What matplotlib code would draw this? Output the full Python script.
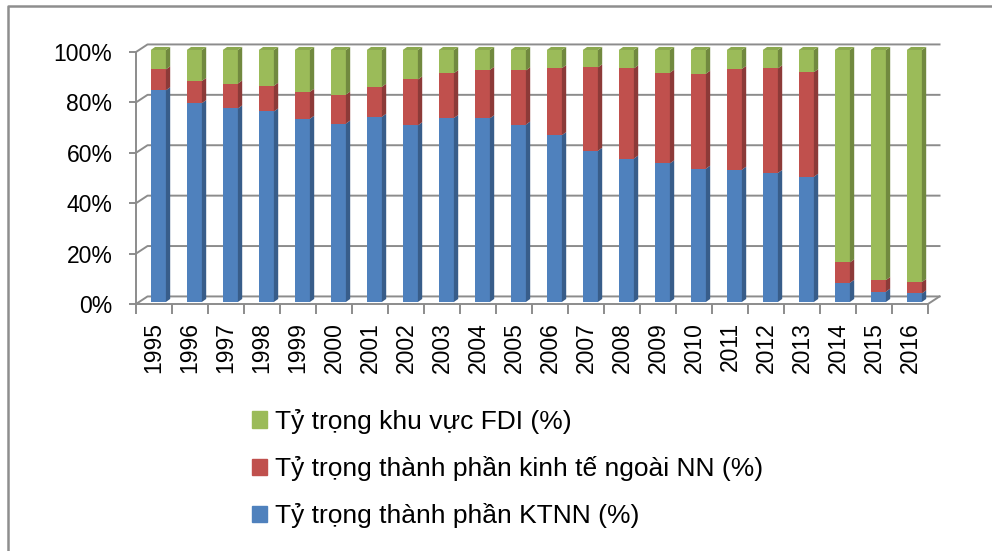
import numpy as np
import matplotlib.pyplot as plt
from matplotlib.patches import Polygon, Patch
from matplotlib.lines import Line2D

plt.rcParams['font.family'] = ['Liberation Sans', 'DejaVu Sans']

years = ["1995", "1996", "1997", "1998", "1999", "2000", "2001", "2002",
         "2003", "2004", "2005", "2006", "2007", "2008", "2009", "2010",
         "2011", "2012", "2013", "2014", "2015", "2016"]
# shares in percent
ktnn = [84.0, 78.9, 76.8, 75.6, 72.7, 70.8, 73.5, 70.1, 73.0, 72.9, 70.4,
        66.2, 60.0, 56.9, 55.0, 52.9, 52.5, 51.2, 49.7, 7.6, 4.1, 3.4]
ngoai_nn = [8.3, 8.8, 9.9, 10.2, 10.7, 11.5, 11.9, 18.2, 17.8, 19.2, 21.5,
            26.6, 33.1, 35.8, 36.0, 37.7, 40.0, 41.5, 41.5, 8.1, 4.6, 4.5]
fdi = [7.7, 12.3, 13.3, 14.2, 16.6, 17.7, 14.6, 11.7, 9.2, 7.9, 8.1,
       7.2, 6.9, 7.3, 9.0, 9.4, 7.5, 7.3, 8.8, 84.3, 91.3, 92.1]

labels = ["Tỷ trọng khu vực FDI (%)",
          "Tỷ trọng thành phần kinh tế ngoài NN (%)",
          "Tỷ trọng thành phần KTNN (%)"]

# front, side, top colours
c_blue = ("#4F81BD", "#385D8A", "#4573AB")
c_red = ("#C0504D", "#8C3A38", "#AC4744")
c_green = ("#9BBB59", "#71893F", "#8BA84F")

fig = plt.figure(figsize=(9.92, 5.51), dpi=100)
ax = fig.add_axes([136 / 992, 1 - 304 / 551, (928 - 136) / 992, (304 - 52) / 551])

n = len(years)
x = np.arange(n)
xmin, xmax = -0.5, n - 0.5
ax.set_xlim(xmin, xmax)
ax.set_ylim(0, 100)

# depth of the "3d" wall and of each bar
wall_dx, wall_dy = 0.32, 3.0
bar_dx, bar_dy = 0.12, 1.2
bw = 0.42
shift = 0.12
lift = 0.8
grid_c = "#8C8C8C"

# back wall gridlines
for v in range(0, 101, 20):
    ax.plot([xmin, xmin + wall_dx, xmax + wall_dx], [v, v + wall_dy, v + wall_dy],
            color=grid_c, lw=1.4, clip_on=False, zorder=1)
# floor right edge
ax.plot([xmax, xmax + wall_dx], [0, wall_dy], color=grid_c, lw=1.4, clip_on=False, zorder=1)


def draw_seg(xc, bottom, height, cols, top=False):
    bottom = bottom + lift
    ax.bar(xc + shift, height, bw, bottom=bottom, color=cols[0], lw=0, zorder=3,
           clip_on=False)
    x1 = xc + shift + bw / 2
    side = Polygon([(x1, bottom), (x1 + bar_dx, bottom + bar_dy),
                    (x1 + bar_dx, bottom + height + bar_dy), (x1, bottom + height)],
                   closed=True, fc=cols[1], ec="none", zorder=3, clip_on=False)
    ax.add_patch(side)
    if top:
        x0 = xc + shift - bw / 2
        y = bottom + height
        tp = Polygon([(x0, y), (x1, y), (x1 + bar_dx, y + bar_dy), (x0 + bar_dx, y + bar_dy)],
                     closed=True, fc=cols[2], ec="none", zorder=3, clip_on=False)
        ax.add_patch(tp)


for i in range(n):
    draw_seg(x[i], 0, ktnn[i], c_blue)
    draw_seg(x[i], ktnn[i], ngoai_nn[i], c_red)
    draw_seg(x[i], ktnn[i] + ngoai_nn[i], fdi[i], c_green, top=True)

for s in ["top", "right"]:
    ax.spines[s].set_visible(False)
for s in ["left", "bottom"]:
    ax.spines[s].set_color(grid_c)
    ax.spines[s].set_linewidth(1.4)

ax.set_yticks(range(0, 101, 20))
ax.set_yticklabels([f"{v}%" for v in range(0, 101, 20)], fontsize=16.5)
ax.tick_params(axis="y", length=5, width=1.4, color=grid_c, pad=12)

ax.set_xticks(x)
ax.set_xticklabels(years, rotation=90, fontsize=16.5)
ax.set_xticks(np.arange(n + 1) - 0.5, minor=True)
ax.tick_params(axis="x", which="major", length=0, pad=13)
ax.tick_params(axis="x", which="minor", length=7, width=1.4, color=grid_c)

handles = [Patch(color=c_green[0]), Patch(color=c_red[0]), Patch(color=c_blue[0])]
fig.legend(handles, labels, loc="upper left", bbox_to_anchor=(252 / 992, 1 - 409 / 551),
           frameon=False, fontsize=19, handlelength=0.58, handleheight=0.58,
           handletextpad=0.3, labelspacing=0.84, borderpad=0, borderaxespad=0)

# outer frame (left and top only are visible)
fig.add_artist(Line2D([8 / 992, 8 / 992, 1.0], [0.0, 1 - 6 / 551, 1 - 6 / 551],
                      transform=fig.transFigure, color="#8E8E8E", lw=1.8))

fig.savefig("out.png", dpi=100)
